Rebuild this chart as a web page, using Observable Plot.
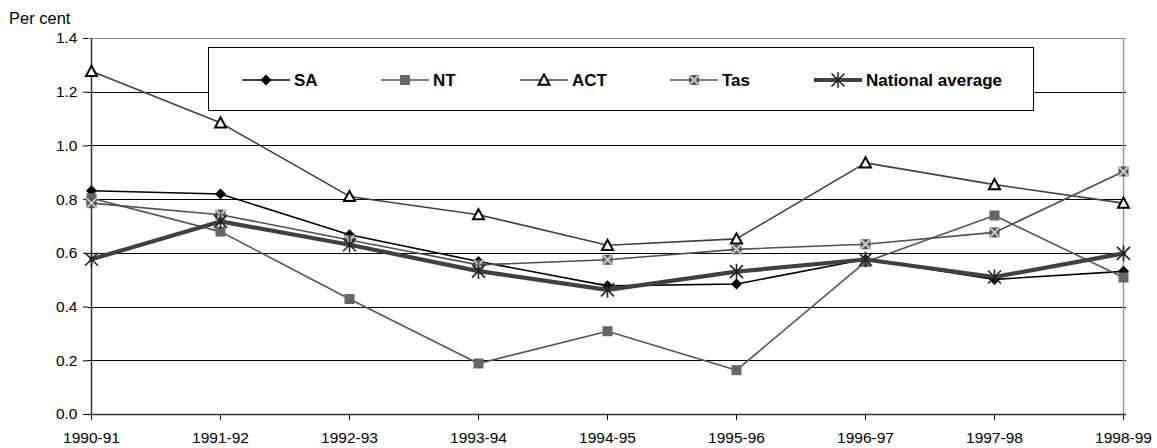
<!DOCTYPE html>
<html>
<head>
<meta charset="utf-8">
<script src="https://cdn.jsdelivr.net/npm/d3@7"></script>
<script src="https://cdn.jsdelivr.net/npm/@observablehq/plot@0.6"></script>
<style>
  html, body { margin: 0; padding: 0; background: #fff; }
  #wrap { position: relative; width: 1157px; height: 448px; font-family: "Liberation Sans", Arial, sans-serif; }
  #ylabel { position: absolute; left: 9px; top: 9px; font-size: 16.5px; color: #000; }
  #legend { position: absolute; left: 208px; top: 47px; width: 824px; height: 62px; border: 1px solid #000; background: #fff; }
  svg { display: block; }
</style>
</head>
<body>
<div id="wrap">
  <div id="chart"></div>
  <div id="ylabel">Per cent</div>
  <div id="legend"></div>
</div>
<script>
const years = ["1990-91","1991-92","1992-93","1993-94","1994-95","1995-96","1996-97","1997-98","1998-99"];
const seriesNames = ["SA","NT","ACT","Tas","National average"];
const saValues = [0.833, 0.821, 0.669, 0.570, 0.479, 0.486, 0.578, 0.503, 0.533];
const ntValues = [0.805, 0.681, 0.430, 0.190, 0.310, 0.165, 0.568, 0.741, 0.510];
const actValues = [1.278, 1.086, 0.812, 0.744, 0.630, 0.654, 0.937, 0.856, 0.787];
const tasValues = [0.787, 0.744, 0.650, 0.557, 0.576, 0.615, 0.634, 0.678, 0.905];
const natValues = [0.578, 0.719, 0.632, 0.534, 0.464, 0.532, 0.577, 0.512, 0.600];
const yTicks = [0, 0.2, 0.4, 0.6, 0.8, 1.0, 1.2, 1.4];

const valuesByName = {"SA": saValues, "NT": ntValues, "ACT": actValues, "Tas": tasValues, "National average": natValues};
const rows = seriesNames.flatMap(s => years.map((y, i) => ({series: s, year: y, value: valuesByName[s][i]})));
const of = s => rows.filter(d => d.series === s);

// custom marker symbols (size = pi*r^2)
const rad = size => Math.sqrt(size / Math.PI);
const diamondSym = {draw(c, size) { const r = rad(size); c.moveTo(0, -r); c.lineTo(r, 0); c.lineTo(0, r); c.lineTo(-r, 0); c.closePath(); }};
const squareSym = {draw(c, size) { const r = rad(size); c.rect(-r, -r, 2 * r, 2 * r); }};
const triangleSym = {draw(c, size) { const r = rad(size); c.moveTo(0, -r); c.lineTo(r, r * 0.85); c.lineTo(-r, r * 0.85); c.closePath(); }};
const timesSym = {draw(c, size) { const r = rad(size); c.moveTo(-r, -r); c.lineTo(r, r); c.moveTo(r, -r); c.lineTo(-r, r); }};
const starSym = {draw(c, size) { const r = rad(size); c.moveTo(-r, -r); c.lineTo(r, r); c.moveTo(r, -r); c.lineTo(-r, r); c.moveTo(0, -r * 1.2); c.lineTo(0, r * 1.2); }};

const style = {
  "SA": {line: "#000000", w: 1.6},
  "NT": {line: "#555555", w: 1.6},
  "ACT": {line: "#404040", w: 1.6},
  "Tas": {line: "#505050", w: 1.6},
  "National average": {line: "#404040", w: 4.2}
};

function markersFor(s, data) {
  if (s === "SA") return [Plot.dot(data, {x: "year", y: "value", symbol: diamondSym, r: 5.5, fill: "#000", stroke: "none"})];
  if (s === "NT") return [Plot.dot(data, {x: "year", y: "value", symbol: squareSym, r: 5, fill: "#666666", stroke: "none"})];
  if (s === "ACT") return [Plot.dot(data, {x: "year", y: "value", symbol: triangleSym, r: 5.5, fill: "#fff", stroke: "#000", strokeWidth: 2})];
  if (s === "Tas") return [
    Plot.dot(data, {x: "year", y: "value", symbol: squareSym, r: 5, fill: "#555555", stroke: "none"}),
    Plot.dot(data, {x: "year", y: "value", symbol: timesSym, r: 4.5, fill: "none", stroke: "#c8c8c8", strokeWidth: 2})
  ];
  return [Plot.dot(data, {x: "year", y: "value", symbol: starSym, r: 6.5, fill: "none", stroke: "#222", strokeWidth: 1.6})];
}

const seriesMarks = seriesNames.flatMap(s => [
  Plot.line(of(s), {x: "year", y: "value", stroke: style[s].line, strokeWidth: style[s].w, strokeLinejoin: "miter"}),
  ...markersFor(s, of(s))
]);

const chart = Plot.plot({
  width: 1157,
  height: 448,
  marginLeft: 88,
  marginRight: 31,
  marginTop: 38,
  marginBottom: 34,
  style: {fontFamily: "'Liberation Sans', Arial, sans-serif", fontSize: "15.5px", color: "#000", background: "#fff", overflow: "visible"},
  x: {type: "point", domain: years, padding: 0},
  y: {domain: [0, 1.4]},
  marks: [
    Plot.ruleY(yTicks.filter(v => v > 0 && v < 1.4), {stroke: "#000", strokeWidth: 1, shapeRendering: "crispEdges"}),
    Plot.ruleY([1.4], {stroke: "#888", strokeWidth: 1.5, shapeRendering: "crispEdges"}),
    Plot.ruleX([years[years.length - 1]], {stroke: "#999", strokeWidth: 1.5}),
    Plot.axisX({tickSize: 6, tickPadding: 11, stroke: "#000", fontSize: 15.5, label: null}),
    Plot.axisY({ticks: yTicks, tickSize: 5, tickPadding: 6, tickFormat: d3.format(".1f"), stroke: "#000", fontSize: 15.5, label: null}),
    Plot.ruleY([0], {stroke: "#333", strokeWidth: 1.5}),
    Plot.ruleX([years[0]], {stroke: "#333", strokeWidth: 1.5}),
    ...seriesMarks
  ]
});
document.getElementById("chart").appendChild(chart);

// Legend
const legendX = [33, 172, 311, 461, 605];
const lg = d3.select("#legend").append("svg").attr("width", 824).attr("height", 62);
const sym = (symObj, r) => { const p = d3.path(); symObj.draw(p, Math.PI * r * r); return p.toString(); };
seriesNames.forEach((s, i) => {
  const g = lg.append("g").attr("transform", `translate(${legendX[i]},32)`);
  g.append("line").attr("x1", 0).attr("x2", 48).attr("stroke", style[s].line).attr("stroke-width", style[s].w);
  const m = g.append("g").attr("transform", "translate(24,0)");
  if (s === "SA") m.append("path").attr("d", sym(diamondSym, 5.5)).attr("fill", "#000");
  if (s === "NT") m.append("path").attr("d", sym(squareSym, 5)).attr("fill", "#666");
  if (s === "ACT") m.append("path").attr("d", sym(triangleSym, 5.5)).attr("fill", "#fff").attr("stroke", "#000").attr("stroke-width", 2);
  if (s === "Tas") { m.append("path").attr("d", sym(squareSym, 5)).attr("fill", "#555"); m.append("path").attr("d", sym(timesSym, 4.5)).attr("fill", "none").attr("stroke", "#c8c8c8").attr("stroke-width", 2); }
  if (s === "National average") m.append("path").attr("d", sym(starSym, 6.5)).attr("fill", "none").attr("stroke", "#222").attr("stroke-width", 1.6);
  g.append("text").attr("x", 52).attr("y", 6).attr("font-family", "'Liberation Sans', Arial, sans-serif").attr("font-weight", "bold").attr("font-size", 17).attr("fill", "#000").text(s);
});
</script>
</body>
</html>
